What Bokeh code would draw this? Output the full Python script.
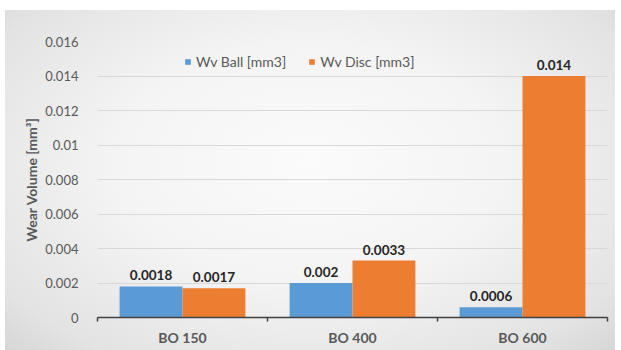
from bokeh.plotting import figure
from bokeh.models import (ColumnDataSource, Range1d, FixedTicker, LinearAxis,
                          Legend, LegendItem, LabelSet)
from bokeh.core.properties import value
from bokeh.transform import dodge
from bokeh.embed import file_html
from bokeh.resources import INLINE

# Wear volume per sample, mm^3
categories = ["BO 150", "BO 400", "BO 600"]
wv_ball = [0.0018, 0.002, 0.0006]
wv_disc = [0.0017, 0.0033, 0.014]
series_names = ["Wv Ball [mm3]", "Wv Disc [mm3]"]
y_ticks = [0, 0.002, 0.004, 0.006, 0.008, 0.01, 0.012, 0.014, 0.016]

BLUE = "#5b9bd5"
ORANGE = "#ed7d31"
GREY_TEXT = "#595959"
FONT = "Lato"

centers = [i + 0.5 for i in range(len(categories))]
src = ColumnDataSource(dict(
    x=centers, ball=wv_ball, disc=wv_disc,
    ball_lbl=[str(v) for v in wv_ball], disc_lbl=[str(v) for v in wv_disc],
))

p = figure(width=621, height=350, output_backend="svg", toolbar_location=None,
           x_range=Range1d(0, len(categories)), y_range=Range1d(0, 0.016),
           x_axis_type=None, min_border_left=97, min_border_right=14,
           min_border_top=41, min_border_bottom=33)
p.border_fill_color = None
p.background_fill_color = None
p.outline_line_color = None
p.styles = {
    "background-color": "white",
    "background-image": "radial-gradient(ellipse at 50% 45%, #fbfbfb 0%, #f4f4f4 45%, #e3e3e3 85%, #d6d6d6 100%)",
    "background-size": "610px 340px",
    "background-position": "5px 10px",
    "background-repeat": "no-repeat",
}

# y axis: labels only, with light horizontal grid
p.yaxis.ticker = FixedTicker(ticks=y_ticks)
p.yaxis.major_label_overrides = {t: ("0" if t == 0 else f"{t:g}") for t in y_ticks}
p.yaxis.axis_line_color = None
p.yaxis.major_tick_line_color = None
p.yaxis.minor_tick_line_color = None
p.yaxis.major_label_text_font = FONT
p.yaxis.major_label_text_font_size = "13px"
p.yaxis.major_label_text_color = GREY_TEXT
p.yaxis.major_label_standoff = 13
p.yaxis.axis_label = "Wear Volume [mm³]"
p.yaxis.axis_label_text_font = FONT
p.yaxis.axis_label_text_font_size = "14px"
p.yaxis.axis_label_text_font_style = "bold"
p.yaxis.axis_label_text_color = GREY_TEXT
p.yaxis.axis_label_standoff = 2
p.ygrid.ticker = FixedTicker(ticks=y_ticks)
p.ygrid.grid_line_color = "#d8d8d8"
p.xgrid.grid_line_color = None

# x axis: category names centred, ticks on category boundaries
xaxis = LinearAxis(
    ticker=FixedTicker(ticks=centers, minor_ticks=list(range(len(categories) + 1))),
    major_label_overrides={c: n for c, n in zip(centers, categories)},
    axis_line_color="#404040", axis_line_width=1.5,
    major_tick_line_color=None,
    minor_tick_line_color="#404040", minor_tick_line_width=1.5,
    minor_tick_in=0, minor_tick_out=4,
    major_label_text_font=FONT, major_label_text_font_size="14px",
    major_label_text_font_style="bold", major_label_text_color=GREY_TEXT,
    major_label_standoff=5,
)
p.add_layout(xaxis, "below")

w = 0.37
off = 0.185
r_ball = p.vbar(x=dodge("x", -off, range=p.x_range), top="ball", width=w,
                source=src, fill_color=BLUE, line_color=None)
r_disc = p.vbar(x=dodge("x", off, range=p.x_range), top="disc", width=w,
                source=src, fill_color=ORANGE, line_color=None)

for col, lbl, d in (("ball", "ball_lbl", -off), ("disc", "disc_lbl", off)):
    p.add_layout(LabelSet(x=dodge("x", d, range=p.x_range), y=col, text=lbl,
                          source=src, text_align="center", text_baseline="bottom",
                          y_offset=6, text_font=value(FONT),
                          text_font_size=value("13.5px"),
                          text_font_style=value("bold"), text_color=value("#262626")))

legend = Legend(items=[LegendItem(label=series_names[0], renderers=[r_ball]),
                       LegendItem(label=series_names[1], renderers=[r_disc])],
                orientation="horizontal", location=(87, 247),
                glyph_width=7, glyph_height=7, label_standoff=5, spacing=22,
                padding=0, margin=0, border_line_color=None,
                background_fill_alpha=0, label_text_font=FONT,
                label_text_font_size="14px", label_text_color=GREY_TEXT)
p.add_layout(legend, "center")

open("out.html", "w").write(file_html(p, INLINE))
